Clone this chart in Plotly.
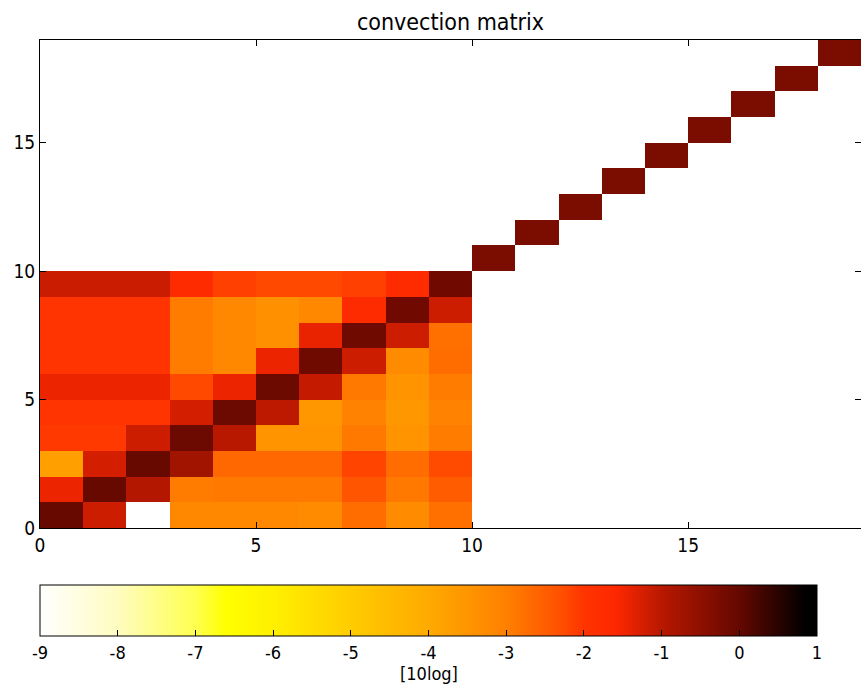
import numpy as np
import plotly.graph_objects as go

# ---- data (10log values) ----
N = 19
cols = list(range(N))
rows = list(range(N))

# inner 10x10 block, row index = y (0 bottom), column index = x
block = [
    [-0.05, -1.17, None, -3.19, -3.19, -3.19, -3.29, -2.71, -3.29, -2.77],   # y=0
    [-1.45, -0.05, -0.95, -2.94, -2.88, -2.88, -2.88, -2.36, -2.88, -2.48],  # y=1
    [-3.76, -1.24, -0.05, -0.73, -2.65, -2.65, -2.65, -2.17, -2.71, -2.25],  # y=2
    [-2.05, -2.05, -1.17, -0.09, -1.00, -3.48, -3.48, -2.88, -3.48, -2.94],  # y=3
    [-2.00, -2.00, -2.00, -1.24, -0.09, -1.03, -3.57, -3.05, -3.57, -3.05],  # y=4
    [-1.45, -1.45, -1.45, -2.21, -1.45, -0.10, -1.10, -2.88, -3.48, -2.94],  # y=5
    [-2.00, -2.00, -2.00, -2.94, -3.19, -1.45, -0.12, -1.17, -3.29, -2.71],  # y=6
    [-2.00, -2.00, -2.00, -2.94, -3.19, -3.38, -1.41, -0.12, -1.17, -2.77],  # y=7
    [-2.00, -2.00, -2.00, -2.94, -3.19, -3.38, -3.19, -1.70, -0.14, -1.17],  # y=8
    [-1.14, -1.14, -1.14, -1.70, -2.13, -2.21, -2.21, -2.13, -1.70, -0.14],  # y=9
]
outer_diag = [-0.27, -0.27, -0.27, -0.27, -0.27, -0.27, -0.27, -0.27, -0.27]  # cells (10..18, 10..18)

cb_ticks = [-9, -8, -7, -6, -5, -4, -3, -2, -1, 0, 1]
cb_title = "[10log]"

# build full matrix
z = np.full((N, N), np.nan)
for r, row in enumerate(block):
    for c, v in enumerate(row):
        if v is not None:
            z[r, c] = v
for k, v in enumerate(outer_diag):
    z[10 + k, 10 + k] = v

x_centers = [c + 0.5 for c in cols]
y_centers = [r + 0.5 for r in rows]

colorscale = [
    [0.0, "#ffffff"],
    [0.1, "#fffcc0"],
    [0.2, "#ffff50"],
    [0.24, "#ffff00"],
    [0.3, "#fff000"],
    [0.4, "#ffcc00"],
    [0.5, "#ffaa00"],
    [0.6, "#ff8000"],
    [0.67, "#ff5000"],
    [0.7, "#ff3400"],
    [0.74, "#ff2800"],
    [0.8, "#b81800"],
    [0.9, "#640800"],
    [0.985, "#000000"],
    [1.0, "#000000"],
]

FONT = "DejaVu Sans Condensed, DejaVu Sans"

W, H = 861, 685
ml, mr, mt, mb = 40, 0, 40, 157
pw = W - ml - mr
ph = H - mt - mb

cb_left, cb_right = 40, 817
cb_top = 585
cb_title_y = 673

fig = go.Figure(
    go.Heatmap(
        x=x_centers,
        y=y_centers,
        z=z,
        zmin=-9,
        zmax=1,
        colorscale=colorscale,
        hoverongaps=False,
        colorbar=dict(
            orientation="h",
            x=((cb_left + cb_right) / 2 - ml) / pw,
            xanchor="center",
            len=(cb_right - cb_left) / pw,
            lenmode="fraction",
            y=(mt + ph - cb_top) / ph,
            yanchor="top",
            yref="paper",
            thickness=51,
            thicknessmode="pixels",
            xpad=0,
            ypad=0,
            outlinecolor="black",
            outlinewidth=1,
            tickvals=cb_ticks,
            ticktext=[str(t) for t in cb_ticks],
            ticks="inside",
            ticklen=6,
            tickcolor="black",
            tickfont=dict(family=FONT, size=18, color="black"),
        ),
    )
)

fig.add_annotation(
    text=cb_title,
    xref="paper", yref="paper",
    x=((cb_left + cb_right) / 2 - ml) / pw,
    y=(mt + ph - cb_title_y) / ph,
    xanchor="center", yanchor="middle",
    showarrow=False,
    font=dict(family=FONT, size=18, color="black"),
)

axis_common = dict(
    showgrid=False,
    zeroline=False,
    showline=True,
    linecolor="black",
    linewidth=1,
    mirror="allticks",
    ticks="inside",
    ticklen=6,
    tickcolor="black",
    automargin=False,
    tickfont=dict(family=FONT, size=19, color="black"),
)

fig.update_layout(
    width=W,
    height=H,
    margin=dict(l=ml, r=mr, t=mt, b=mb, autoexpand=False),
    paper_bgcolor="white",
    plot_bgcolor="white",
    title=dict(text="convection matrix", x=(ml + pw / 2) / W, xanchor="center",
               y=1 - 22 / H, yanchor="middle",
               font=dict(family=FONT, size=23, color="black")),
    xaxis=dict(range=[0, 19], tickvals=[0, 5, 10, 15], **axis_common),
    yaxis=dict(range=[0, 19], tickvals=[0, 5, 10, 15], **axis_common),
)

post = (
    "document.body.style.margin='0';"
    "document.body.style.padding='0';"
    "document.body.style.overflow='hidden';"
    "var gd=document.getElementById('{plot_id}');"
    "Plotly.relayout(gd,{width:%d,height:%d});" % (W, H)
)

fig.write_html("out.html", post_script=post,
               config={"responsive": False, "displayModeBar": False})
